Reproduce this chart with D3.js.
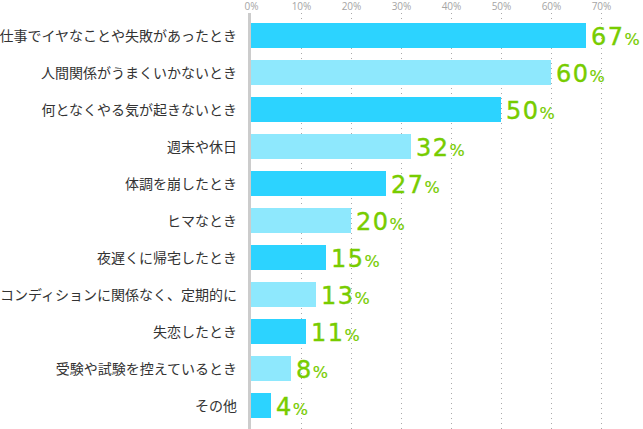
<!DOCTYPE html>
<html>
<head>
<meta charset="utf-8">
<script src="https://cdn.jsdelivr.net/npm/d3@7"></script>
<style>
  body { margin: 0; background: #fff; }
  svg { display: block; }
</style>
</head>
<body>
<div id="chart"></div>
<script>
const categories = [
    "仕事でイヤなことや失敗があったとき",
    "人間関係がうまくいかないとき",
    "何となくやる気が起きないとき",
    "週末や休日",
    "体調を崩したとき",
    "ヒマなとき",
    "夜遅くに帰宅したとき",
    "コンディションに関係なく、定期的に",
    "失恋したとき",
    "受験や試験を控えているとき",
    "その他"
];
const values = [67, 60, 50, 32, 27, 20, 15, 13, 11, 8, 4];
const ticks = [0, 10, 20, 30, 40, 50, 60, 70];

const width = 643, height = 429;

const buildChart = () => {
    let svg = d3.select("#chart")
        .append("svg")
        .attr("width", width)
        .attr("height", height);

    let x = d3.scaleLinear().domain([0, 70]).range([251, 601]);
    let y = d3.scaleBand()
        .domain(categories)
        .range([23, 418])
        .paddingInner(12 / 37)
        .paddingOuter(0);

    // dotted grid lines
    svg.append("g")
        .selectAll("line")
        .data(ticks.filter(d => d > 0))
        .enter()
        .append("line")
        .attr("x1", d => x(d) + 0.5)
        .attr("x2", d => x(d) + 0.5)
        .attr("y1", 13)
        .attr("y2", height)
        .attr("stroke", "#aaa")
        .attr("stroke-width", 1)
        .attr("stroke-dasharray", "1,4");

    // top axis labels
    let xAxis = d3.axisTop(x)
        .tickValues(ticks)
        .tickSize(0)
        .tickFormat(d => d + "%");
    let axis = svg.append("g")
        .attr("transform", "translate(0,10)")
        .call(xAxis);
    axis.select(".domain").remove();
    axis.selectAll("text")
        .attr("fill", "#a5a5a5")
        .attr("font-family", "'Open Sans', sans-serif")
        .attr("font-size", 10)
        .attr("y", 0)
        .attr("dy", 0);

    // bars
    svg.append("g")
        .selectAll("rect")
        .data(values)
        .enter()
        .append("rect")
        .attr("x", x(0))
        .attr("y", (d, i) => y(categories[i]))
        .attr("width", d => x(d) - x(0))
        .attr("height", y.bandwidth())
        .attr("fill", (d, i) => i % 2 ? "#8ee8fd" : "#2cd3ff");

    // left axis bar
    svg.append("rect")
        .attr("x", 248)
        .attr("y", 13)
        .attr("width", 3)
        .attr("height", height - 13)
        .attr("fill", "#ccc");

    // category labels
    svg.append("g")
        .selectAll("text")
        .data(categories)
        .enter()
        .append("text")
        .attr("x", 237)
        .attr("y", d => y(d) + y.bandwidth() / 2)
        .attr("dy", "0.36em")
        .attr("text-anchor", "end")
        .attr("font-family", "'Noto Sans CJK JP', sans-serif")
        .attr("font-size", 14)
        .attr("fill", "#333")
        .text(d => d);

    // value labels
    let vals = svg.append("g")
        .selectAll("text")
        .data(values)
        .enter()
        .append("text")
        .attr("x", d => x(d) + 5)
        .attr("y", (d, i) => y(categories[i]) + y.bandwidth() / 2 + 9.5)
        .attr("font-family", "'DejaVu Sans', sans-serif")
        .attr("fill", "#77cc00")
        .attr("stroke", "#77cc00")
        .attr("stroke-width", 0.4);
    vals.append("tspan")
        .attr("font-size", 24)
        .attr("letter-spacing", 1.5)
        .text(d => d);
    vals.append("tspan")
        .attr("font-size", 16)
        .attr("stroke-width", 0.2)
        .text("%");
};

buildChart();
</script>
</body>
</html>
